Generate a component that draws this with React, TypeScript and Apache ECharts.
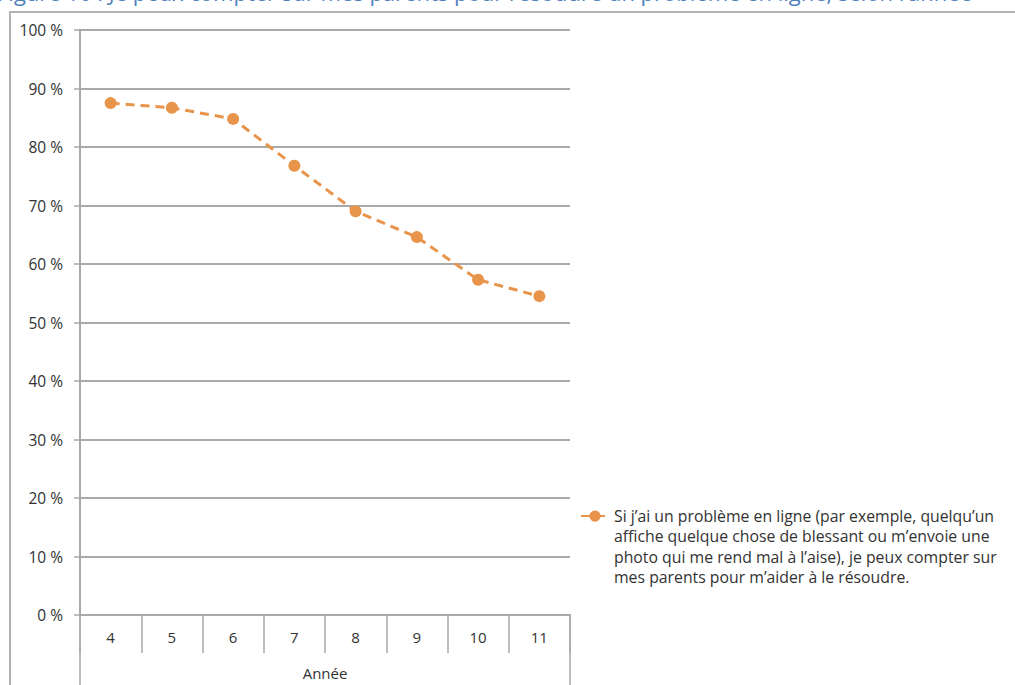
import React, { useEffect, useRef } from "react";
import * as echarts from "echarts";

const categories = ["4", "5", "6", "7", "8", "9", "10", "11"];
const values = [87.5, 86.7, 84.8, 76.8, 69.0, 64.6, 57.3, 54.5];
const seriesName =
  "Si j\u2019ai un problème en ligne (par exemple, quelqu\u2019un\naffiche quelque chose de blessant ou m\u2019envoie une\nphoto qui me rend mal à l\u2019aise), je peux compter sur\nmes parents pour m\u2019aider à le résoudre.";
const titleText =
  "Figure 16 : Je peux compter sur mes parents pour résoudre un problème en ligne, selon l\u2019année";

export default function App() {
  const ref = useRef<HTMLDivElement>(null);
  useEffect(() => {
    if (!ref.current) return;
    const chart = echarts.init(ref.current, undefined, { renderer: "svg" });
    const gridLeft = 80;
    const gridTop = 30;
    const gridW = 490;
    const gridH = 585;
    const gray = "#a9a9a9";
    const font = "'Open Sans', 'Liberation Sans', sans-serif";
    chart.setOption({
      animation: false,
      backgroundColor: "#ffffff",
      title: {
        text: titleText,
        left: -8,
        top: -24,
        textStyle: { color: "#4f81bd", fontSize: 22, fontWeight: "normal", fontFamily: font },
      },
      grid: { left: gridLeft, top: gridTop, width: gridW, height: gridH, containLabel: false },
      legend: {
        left: 575,
        top: 440,
        itemWidth: 28,
        itemHeight: 14,
        data: [seriesName],
        formatter: (name: string) => "\n\n\n" + name,
        textStyle: {
          fontFamily: font,
          fontSize: 15.8,
          color: "#333333",
          lineHeight: 20.3,
        },
      },
      xAxis: {
        type: "category",
        data: categories,
        boundaryGap: true,
        axisLine: { lineStyle: { color: gray, width: 2 } },
        axisTick: { show: true, length: 38, lineStyle: { color: gray, width: 1.5 } },
        axisLabel: { margin: 14, fontSize: 15, color: "#333333", fontFamily: font },
        name: "Année",
        nameLocation: "middle",
        nameGap: 50,
        nameTextStyle: { fontSize: 15, color: "#333333", fontFamily: font },
      },
      yAxis: {
        type: "value",
        min: 0,
        max: 100,
        interval: 10,
        axisLine: { show: true, lineStyle: { color: gray, width: 2 } },
        axisTick: { show: true, length: 6, lineStyle: { color: gray, width: 1.5 } },
        splitLine: { show: true, lineStyle: { color: gray, width: 2 } },
        axisLabel: {
          margin: 17,
          fontSize: 15.5,
          color: "#333333",
          fontFamily: font,
          formatter: (v: number) => `${v} %`,
        },
      },
      series: [
        {
          name: seriesName,
          type: "line",
          data: values,
          symbol: "circle",
          symbolSize: 12,
          itemStyle: { color: "#e8944a" },
          lineStyle: { color: "#e8944a", width: 3, type: [9, 6] },
        },
      ],
      graphic: [
        {
          type: "rect",
          shape: { x: 10, y: 12, width: 1100, height: 800 },
          style: { fill: "none", stroke: "#b3b3b3", lineWidth: 2 },
          silent: true,
        },
        {
          type: "line",
          shape: { x1: gridLeft, y1: gridTop + gridH, x2: gridLeft, y2: 690 },
          style: { stroke: gray, lineWidth: 1.5 },
          silent: true,
        },
        {
          type: "line",
          shape: { x1: gridLeft + gridW, y1: gridTop + gridH, x2: gridLeft + gridW, y2: 690 },
          style: { stroke: gray, lineWidth: 1.5 },
          silent: true,
        },
      ],
    });
    return () => chart.dispose();
  }, []);
  return (
    <div
      ref={ref}
      style={{ position: "fixed", left: 0, top: 0, width: 1015, height: 685, background: "#fff" }}
    />
  );
}
